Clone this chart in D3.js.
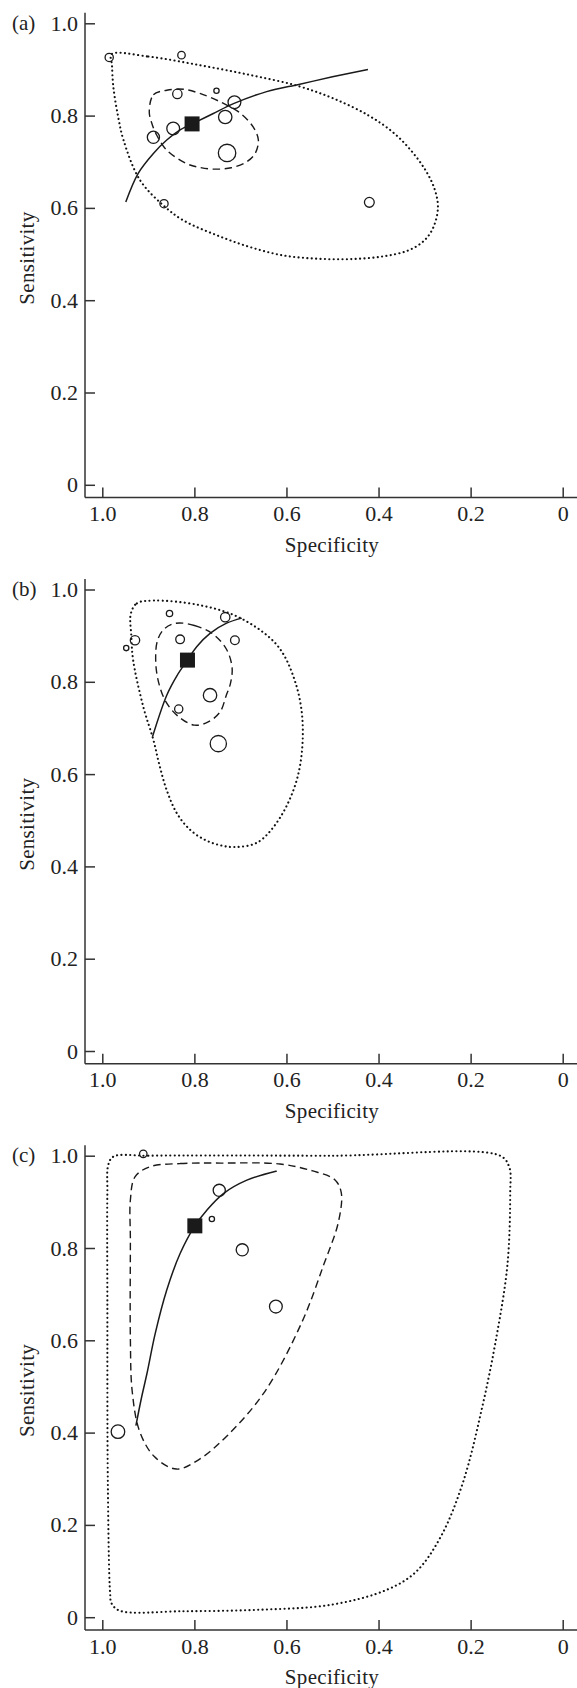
<!DOCTYPE html>
<html lang="en">
<head>
    <meta charset="UTF-8">
    <script src="https://cdnjs.cloudflare.com/ajax/libs/d3/7.8.5/d3.min.js" type="text/JavaScript"></script>
    <style>
        body { margin: 0; background: #fff; }
        text { font-family: "Liberation Serif", "DejaVu Serif", serif; fill: #222; }
    </style>
</head>
<body>
<div id="viz">
    <svg style="width:577px;height:1688px;" width="577" height="1688"></svg>
</div>
<script>
    // tick values and labels (both axes use the same set)
    const ticks = [1.0, 0.8, 0.6, 0.4, 0.2, 0];
    const tickLabels = ['1.0', '0.8', '0.6', '0.4', '0.2', '0'];
    const panelLabels = ['(a)', '(b)', '(c)'];

    // individual studies: [specificity, sensitivity, study size]
    const studiesA = [
        [0.985, 0.926, 17], [0.828, 0.931, 14], [0.837, 0.847, 22], [0.752, 0.854, 7],
        [0.713, 0.829, 41], [0.733, 0.797, 45], [0.846, 0.772, 41], [0.889, 0.753, 37],
        [0.729, 0.719, 76], [0.866, 0.609, 17], [0.420, 0.612, 24]
    ];
    const studiesB = [
        [0.854, 0.948, 10], [0.733, 0.940, 22], [0.929, 0.890, 22], [0.948, 0.873, 7],
        [0.831, 0.892, 19], [0.712, 0.890, 19], [0.766, 0.771, 45], [0.834, 0.741, 17],
        [0.748, 0.666, 66]
    ];
    const studiesC = [
        [0.911, 1.004, 14], [0.746, 0.925, 37], [0.762, 0.863, 7], [0.696, 0.796, 37],
        [0.623, 0.673, 41], [0.966, 0.402, 46]
    ];

    // summary point [specificity, sensitivity]
    const summaryA = [0.805, 0.782];
    const summaryB = [0.815, 0.847];
    const summaryC = [0.799, 0.848];

    // SROC curves
    const srocA = [
        [0.949, 0.613], [0.922, 0.675], [0.889, 0.718], [0.860, 0.747], [0.831, 0.769],
        [0.805, 0.782], [0.760, 0.804], [0.715, 0.826], [0.643, 0.852], [0.571, 0.868],
        [0.500, 0.884], [0.423, 0.900]
    ];
    const srocB = [
        [0.891, 0.681], [0.860, 0.771], [0.838, 0.813], [0.815, 0.847],
        [0.795, 0.876], [0.766, 0.905], [0.730, 0.927], [0.697, 0.938]
    ];
    const srocC = [
        [0.927, 0.415], [0.915, 0.475], [0.903, 0.528], [0.885, 0.615], [0.860, 0.709],
        [0.831, 0.788], [0.799, 0.848], [0.773, 0.882], [0.737, 0.918], [0.686, 0.947],
        [0.621, 0.967]
    ];

    // confidence regions (dashed)
    const confA = [
        [0.898, 0.808], [0.889, 0.845], [0.860, 0.855], [0.823, 0.857], [0.788, 0.848],
        [0.740, 0.828], [0.700, 0.805], [0.672, 0.775], [0.661, 0.747], [0.668, 0.718],
        [0.686, 0.700], [0.720, 0.687], [0.759, 0.684], [0.790, 0.688], [0.817, 0.696],
        [0.860, 0.725], [0.883, 0.760], [0.893, 0.785]
    ];
    const confB = [
        [0.840, 0.927], [0.800, 0.922], [0.759, 0.903], [0.730, 0.870], [0.718, 0.830],
        [0.722, 0.795], [0.731, 0.770], [0.744, 0.735], [0.770, 0.713], [0.800, 0.706],
        [0.835, 0.725], [0.862, 0.757], [0.878, 0.800], [0.884, 0.845], [0.880, 0.890],
        [0.865, 0.915]
    ];
    const confC = [
        [0.897, 0.976], [0.831, 0.983], [0.743, 0.984], [0.614, 0.982], [0.543, 0.967],
        [0.495, 0.948], [0.481, 0.920], [0.487, 0.857], [0.519, 0.764], [0.567, 0.638],
        [0.647, 0.489], [0.727, 0.395], [0.791, 0.341], [0.839, 0.321], [0.887, 0.348],
        [0.919, 0.403], [0.935, 0.489], [0.939, 0.601], [0.939, 0.817], [0.939, 0.904],
        [0.929, 0.954]
    ];

    // prediction regions (dotted)
    const predA = [
        [0.980, 0.933], [0.900, 0.928], [0.787, 0.909], [0.679, 0.888], [0.578, 0.865],
        [0.500, 0.838], [0.423, 0.801], [0.370, 0.765], [0.330, 0.725], [0.297, 0.680],
        [0.278, 0.640], [0.271, 0.602], [0.280, 0.560], [0.300, 0.530], [0.335, 0.508],
        [0.390, 0.495], [0.462, 0.489], [0.534, 0.490], [0.607, 0.497], [0.679, 0.515],
        [0.752, 0.541], [0.824, 0.573], [0.868, 0.606], [0.918, 0.660], [0.954, 0.747],
        [0.966, 0.800], [0.976, 0.862], [0.979, 0.910]
    ];
    const predB = [
        [0.938, 0.948], [0.925, 0.970], [0.889, 0.976], [0.788, 0.966], [0.700, 0.938],
        [0.621, 0.880], [0.583, 0.806], [0.565, 0.713], [0.575, 0.597], [0.615, 0.504],
        [0.663, 0.452], [0.711, 0.442], [0.745, 0.446], [0.778, 0.458], [0.810, 0.480],
        [0.838, 0.515], [0.860, 0.565], [0.876, 0.620], [0.889, 0.674], [0.911, 0.746],
        [0.933, 0.847], [0.937, 0.900]
    ];
    const predC = [
        [0.976, 0.998], [0.900, 1.000], [0.500, 1.000], [0.136, 1.000], [0.116, 0.975],
        [0.114, 0.920], [0.120, 0.764], [0.144, 0.607], [0.176, 0.450], [0.216, 0.294],
        [0.264, 0.176], [0.319, 0.098], [0.383, 0.059], [0.503, 0.027], [0.663, 0.016],
        [0.823, 0.013], [0.962, 0.014], [0.980, 0.030], [0.983, 0.052], [0.988, 0.294],
        [0.989, 0.685], [0.989, 0.920], [0.987, 0.980]
    ];

    const panels = [
        {label: panelLabels[0], studies: studiesA, summary: summaryA, sroc: srocA, conf: confA, pred: predA},
        {label: panelLabels[1], studies: studiesB, summary: summaryB, sroc: srocB, conf: confB, pred: predB},
        {label: panelLabels[2], studies: studiesC, summary: summaryC, sroc: srocC, conf: confC, pred: predC}
    ];

    const svg = d3.select('svg');
    const axisX = 85;
    const plotH = 461.5;
    const panelStep = 566.2;
    const firstTop = 23.3;

    const x = d3.scaleLinear().domain([1, 0]).range([102.3, 562.7]);
    const r = d3.scaleSqrt().domain([0, 100]).range([0, 10]);
    const fmt = d => tickLabels[ticks.indexOf(d)];

    const closed = d3.line()
        .x(d => x(d[0]))
        .curve(d3.curveCatmullRomClosed.alpha(0.5));
    const open = d3.line()
        .x(d => x(d[0]))
        .curve(d3.curveCatmullRom.alpha(0.5));

    panels.forEach((p, i) => {
        const top = firstTop + i * panelStep;
        const y = d3.scaleLinear().domain([0, 1]).range([top + plotH, top]);
        const baseY = y(0) + 12.7;
        const g = svg.append('g');

        closed.y(d => y(d[1]));
        open.y(d => y(d[1]));

        // axis lines
        g.append('line')
            .attr('x1', axisX).attr('x2', axisX)
            .attr('y1', y(1) - 10.5).attr('y2', baseY)
            .attr('stroke', '#333').attr('stroke-width', 1.5);
        g.append('line')
            .attr('x1', axisX).attr('x2', 577)
            .attr('y1', baseY).attr('y2', baseY)
            .attr('stroke', '#333').attr('stroke-width', 1.5);

        const yAxis = g.append('g')
            .attr('transform', `translate(${axisX},0)`)
            .call(d3.axisLeft(y).tickValues(ticks).tickFormat(fmt)
                .tickSizeInner(-10).tickSizeOuter(0).tickPadding(7));
        const xAxis = g.append('g')
            .attr('transform', `translate(0,${baseY})`)
            .call(d3.axisBottom(x).tickValues(ticks).tickFormat(fmt)
                .tickSizeInner(-10).tickSizeOuter(0).tickPadding(8));

        [yAxis, xAxis].forEach(a => {
            a.select('.domain').remove();
            a.selectAll('line').attr('stroke', '#333').attr('stroke-width', 1.5);
            a.selectAll('text')
                .attr('fill', '#222')
                .style('font-size', '22px')
                .style('font-family', '"Liberation Serif", serif');
        });

        g.append('text')
            .attr('x', 12).attr('y', y(1))
            .attr('dy', '0.32em')
            .style('font-size', '21px')
            .text(p.label);

        g.append('text')
            .attr('transform', `translate(34,${y(0.5) + 4})rotate(-90)`)
            .attr('text-anchor', 'middle')
            .style('font-size', '21px')
            .style('letter-spacing', '0.3px')
            .text('Sensitivity');

        g.append('text')
            .attr('x', 332).attr('y', baseY + 54)
            .attr('text-anchor', 'middle')
            .style('font-size', '21px')
            .style('letter-spacing', '0.3px')
            .text('Specificity');

        // regions and curve
        g.append('path')
            .attr('d', closed(p.pred))
            .attr('fill', 'none').attr('stroke', '#111')
            .attr('stroke-width', 2.1)
            .attr('stroke-linecap', 'round')
            .attr('stroke-dasharray', '0.1 4.3');
        g.append('path')
            .attr('d', closed(p.conf))
            .attr('fill', 'none').attr('stroke', '#1a1a1a')
            .attr('stroke-width', 1.4)
            .attr('stroke-dasharray', '7.5 4.5');
        g.append('path')
            .attr('d', open(p.sroc))
            .attr('fill', 'none').attr('stroke', '#1a1a1a')
            .attr('stroke-width', 1.5);

        g.selectAll('circle.study')
            .data(p.studies).enter()
            .append('circle')
            .attr('class', 'study')
            .attr('cx', d => x(d[0]))
            .attr('cy', d => y(d[1]))
            .attr('r', d => r(d[2]))
            .attr('fill', 'none')
            .attr('stroke', '#1a1a1a')
            .attr('stroke-width', 1.3);

        g.append('rect')
            .attr('x', x(p.summary[0]) - 7.5)
            .attr('y', y(p.summary[1]) - 7.5)
            .attr('width', 15).attr('height', 15)
            .attr('fill', '#1a1a1a');
    });
</script>
</body>
</html>
